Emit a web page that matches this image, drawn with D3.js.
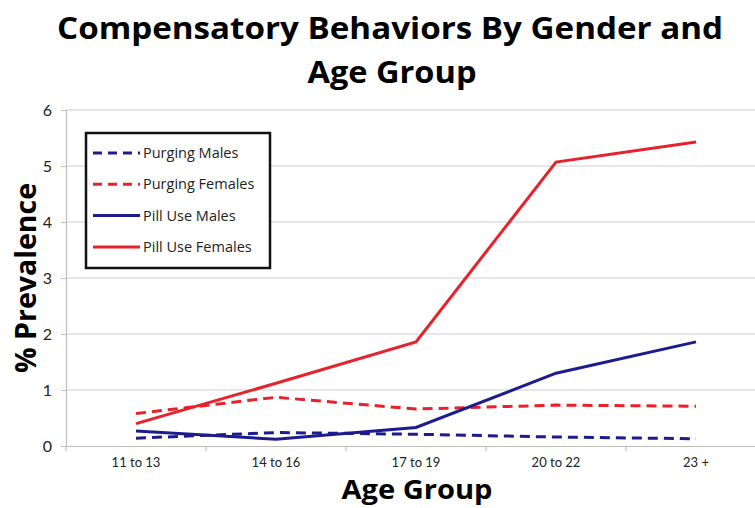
<!DOCTYPE html>
<html><head><meta charset="utf-8">
<script src="https://cdn.jsdelivr.net/npm/d3@7"></script>
<style>body{margin:0;background:#fff;} svg{display:block;}</style>
</head><body>
<svg id="c" width="755" height="508"></svg>
<script>
const categories = ["11 to 13","14 to 16","17 to 19","20 to 22","23 +"];
const purgingMales   = [0.14, 0.24, 0.21, 0.16, 0.13];
const purgingFemales = [0.58, 0.87, 0.66, 0.73, 0.71];
const pillUseMales   = [0.27, 0.12, 0.33, 1.30, 1.86];
const pillUseFemales = [0.40, 1.12, 1.86, 5.07, 5.43];
const yTicks = [0,1,2,3,4,5,6];
const seriesNames = ["Purging Males","Purging Females","Pill Use Males","Pill Use Females"];

const series = [
  {name: seriesNames[0], values: purgingMales, color: "#1c1c8f", dash: "10,6"},
  {name: seriesNames[1], values: purgingFemales, color: "#e8212b", dash: "10,6"},
  {name: seriesNames[2], values: pillUseMales, color: "#1c1c8f", dash: null},
  {name: seriesNames[3], values: pillUseFemales, color: "#e8212b", dash: null}
];

const svg = d3.select("#c");
const pL = 66, pR = 766, pT = 110, pB = 446;
const x = d3.scaleBand().domain(categories).range([pL, pR]);
const y = d3.scaleLinear().domain([0, 6]).range([pB, pT]);

// gridlines
svg.append("g").selectAll("line").data(yTicks.slice(1)).join("line")
  .attr("x1", pL).attr("x2", pR)
  .attr("y1", d => y(d)).attr("y2", d => y(d))
  .attr("stroke", "#cfcfcf").attr("stroke-width", 1.2);

// y axis
const yAxis = svg.append("g").attr("transform", `translate(${pL},0)`)
  .call(d3.axisLeft(y).tickValues(yTicks).tickFormat(d3.format("d")).tickSize(5).tickPadding(9));
yAxis.select(".domain").attr("stroke", "#bdbdbd").attr("stroke-width", 1.2);
yAxis.selectAll(".tick line").attr("stroke", "#bdbdbd");
yAxis.selectAll("text").attr("font-family", "Lato, sans-serif").attr("font-size", 16).attr("fill", "#222");

// x axis
const xAxis = svg.append("g").attr("transform", `translate(0,${pB})`)
  .call(d3.axisBottom(x).tickSize(0).tickPadding(12));
xAxis.select(".domain").attr("stroke", "#bdbdbd").attr("stroke-width", 1.2);
xAxis.selectAll("text").attr("font-family", "Lato, sans-serif").attr("font-size", 13).attr("fill", "#222");
// boundary ticks
svg.append("g").selectAll("line").data(categories).join("line")
  .attr("x1", d => x(d)).attr("x2", d => x(d))
  .attr("y1", pB).attr("y2", pB + 5)
  .attr("stroke", "#bdbdbd").attr("stroke-width", 1.2);

// lines
const line = d3.line().x((d, i) => x(categories[i]) + x.bandwidth() / 2).y(d => y(d));
svg.append("g").selectAll("path").data(series).join("path")
  .attr("d", d => line(d.values))
  .attr("fill", "none")
  .attr("stroke", d => d.color)
  .attr("stroke-width", 3)
  .attr("stroke-dasharray", d => d.dash);

// legend
const lg = svg.append("g");
lg.append("rect").attr("x", 86).attr("y", 133).attr("width", 184).attr("height", 135)
  .attr("fill", "#fff").attr("stroke", "#111").attr("stroke-width", 2.5);
const items = lg.selectAll("g").data(series).join("g")
  .attr("transform", (d, i) => `translate(0,${153 + i * 31.3})`);
items.append("line").attr("x1", 93).attr("x2", 140).attr("y1", 0).attr("y2", 0)
  .attr("stroke", d => d.color).attr("stroke-width", 3)
  .attr("stroke-dasharray", d => d.dash ? "9,6" : null);
items.append("text").attr("x", 143).attr("y", 5).text(d => d.name)
  .attr("font-family", "'Open Sans', sans-serif").attr("font-size", 14.5).attr("fill", "#222");

// titles
const bold = (sel) => sel.attr("font-family", "'Open Sans', sans-serif").attr("font-weight", "bold")
  .attr("fill", "#000").attr("lengthAdjust", "spacingAndGlyphs");
bold(svg.append("text")).attr("x", 390).attr("y", 39).attr("text-anchor", "middle")
  .attr("font-size", 30).attr("textLength", 666)
  .text("Compensatory Behaviors By Gender and");
bold(svg.append("text")).attr("x", 392).attr("y", 83).attr("text-anchor", "middle")
  .attr("font-size", 30).attr("textLength", 169)
  .text("Age Group");
bold(svg.append("text")).attr("x", 417).attr("y", 499).attr("text-anchor", "middle")
  .attr("font-size", 26).attr("textLength", 151)
  .text("Age Group");
bold(svg.append("text")).attr("transform", "translate(36,278) rotate(-90)").attr("text-anchor", "middle")
  .attr("font-size", 29).attr("textLength", 190)
  .text("% Prevalence");
</script>
</body></html>
